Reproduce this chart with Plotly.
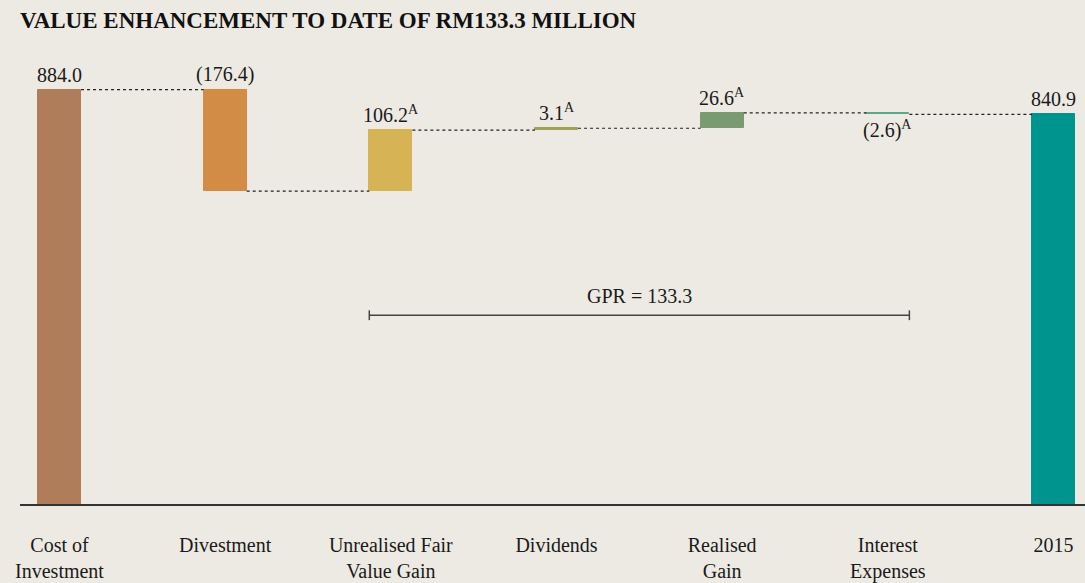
import plotly.graph_objects as go

categories = ["Cost of<br>Investment", "Divestment", "Unrealised Fair<br>Value Gain",
              "Dividends", "Realised<br>Gain", "Interest<br>Expenses", "2015"]
values = [884.0, -176.4, 106.2, 3.1, 26.6, -2.6, 840.9]
is_total = [True, False, False, False, False, False, True]
labels = ["884.0", "(176.4)", "106.2<sup>A</sup>", "3.1<sup>A</sup>",
          "26.6<sup>A</sup>", "(2.6)<sup>A</sup>", "840.9"]
colors = ["#B07D5A", "#D38C46", "#D6B455", "#A0A058", "#7A9A72", "#5BA889", "#00948F"]

BG = "#EDEAE3"
FONT = "Liberation Serif, Times New Roman, serif"
TXT = "#1a1a1a"
W = 0.26

# compute bases / running totals
bases, heights, ends = [], [], []
running = 0.0
for v, t in zip(values, is_total):
    if t:
        bases.append(0.0)
        heights.append(v)
        running = v
    else:
        bases.append(running)
        heights.append(v)
        running = running + v
    ends.append(running)

x = list(range(len(categories)))
fig = go.Figure()
fig.add_trace(go.Bar(
    x=x, y=heights, base=bases, width=W,
    marker=dict(color=colors, line=dict(color=colors, width=1)),
    hoverinfo="skip", showlegend=False,
))

# connectors
for i in range(len(values) - 1):
    lvl = ends[i]
    fig.add_trace(go.Scatter(
        x=[i + W / 2, i + 1 - W / 2], y=[lvl, lvl], mode="lines",
        line=dict(color="#222", width=1.2, dash="dot"),
        hoverinfo="skip", showlegend=False,
    ))

# value labels
for i, (v, lab) in enumerate(zip(values, labels)):
    top = heights[i] if is_total[i] else max(bases[i], bases[i] + heights[i])
    bot = min(bases[i], bases[i] + heights[i])
    if (not is_total[i]) and v < 0 and i == 5:
        fig.add_annotation(x=i, y=bot, text=lab, showarrow=False, yanchor="top",
                           yshift=-1, font=dict(family=FONT, size=20, color=TXT))
    else:
        fig.add_annotation(x=i, y=top, text=lab, showarrow=False, yanchor="bottom",
                           yshift=2, font=dict(family=FONT, size=20, color=TXT))

# GPR bracket
gpr_val = sum(values[2:6])
gy = 492
x0, x1 = 2 - W / 2, 5 + W / 2
fig.add_trace(go.Scatter(
    x=[x0, x1], y=[gy, gy], mode="lines+markers",
    line=dict(color="#444", width=1.5),
    marker=dict(symbol="line-ns", size=7, line=dict(color="#444", width=1.5)),
    hoverinfo="skip", showlegend=False,
))
fig.add_annotation(x=(x0 + x1) / 2, y=gy, text=f"GPR = {gpr_val:.1f}", showarrow=False,
                   yanchor="bottom", yshift=6, font=dict(family=FONT, size=20, color=TXT))

fig.update_layout(
    width=1085, height=583,
    paper_bgcolor=BG, plot_bgcolor=BG,
    margin=dict(l=20, r=0, t=60, b=74),
    title=dict(text="<b>VALUE ENHANCEMENT TO DATE OF RM133.3 MILLION</b>",
               x=0, xref="paper", xanchor="left", y=0.965, yanchor="middle",
               font=dict(family=FONT, size=23, color="#111"), pad=dict(l=0)),
    xaxis=dict(range=[-0.2384, 6.19], tickvals=x, ticktext=categories,
               showgrid=False, zeroline=False, showline=True, linecolor="#333",
               linewidth=1.5, ticks="", ticklabelstandoff=22,
               tickfont=dict(family=FONT, size=20, color=TXT), fixedrange=True),
    yaxis=dict(range=[164, 935.5], visible=False, fixedrange=True),
    bargap=0,
)
fig.write_html("out.html", config={"displayModeBar": False},
               post_script="document.body.style.margin='0';document.body.style.overflow='hidden';"
                           "document.body.style.background='" + BG + "';")
